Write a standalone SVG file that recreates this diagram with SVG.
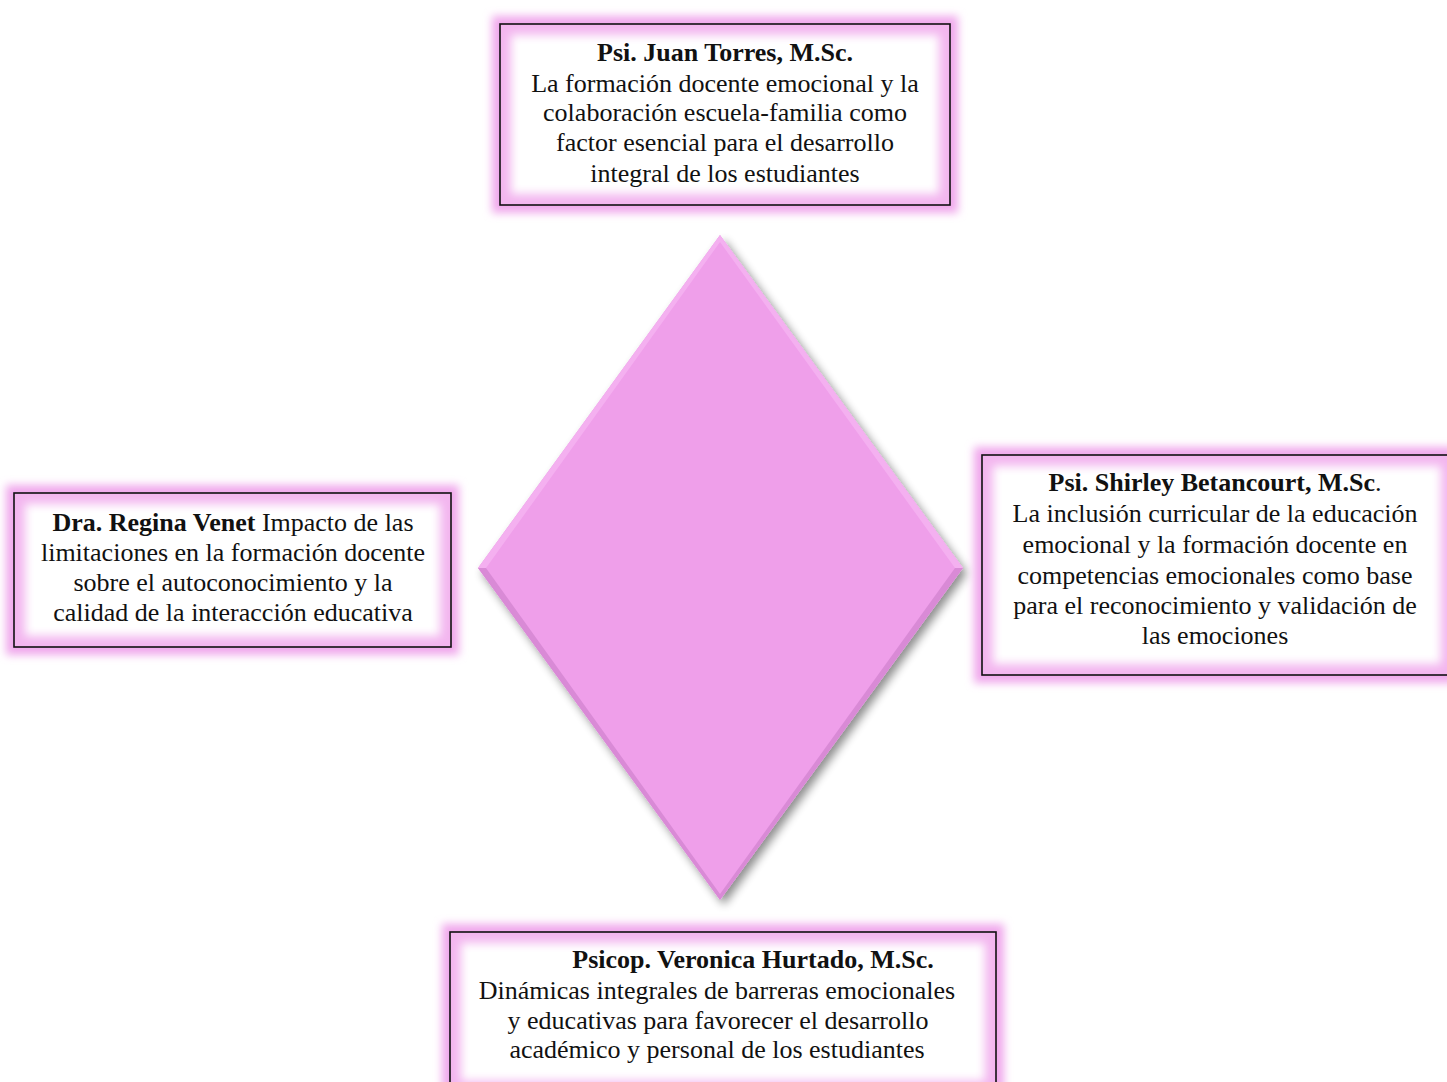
<svg xmlns="http://www.w3.org/2000/svg" width="1447" height="1082" viewBox="0 0 1447 1082">
<style>
.t{font-family:"Liberation Serif","Times New Roman",serif;font-size:26px;fill:#111;text-anchor:middle}
.b{font-weight:bold}
.border{fill:none;stroke:#111;stroke-width:1.6}
.glow{fill:none;stroke:#f0a8ec;stroke-width:16;filter:url(#blur)}
.inner{fill:none;stroke:#f3b6ef;stroke-width:22;filter:url(#blur2)}
</style>
<defs>
<filter id="blur" x="-10%" y="-20%" width="120%" height="140%"><feGaussianBlur stdDeviation="4"/></filter>
<filter id="blur2" x="-10%" y="-20%" width="120%" height="140%"><feGaussianBlur stdDeviation="5"/></filter>
<filter id="shadow" x="-20%" y="-20%" width="140%" height="140%"><feGaussianBlur in="SourceAlpha" stdDeviation="5"/><feOffset dx="4" dy="5"/><feComponentTransfer><feFuncA type="linear" slope="0.45"/></feComponentTransfer><feMerge><feMergeNode/><feMergeNode in="SourceGraphic"/></feMerge></filter>
<clipPath id="cTop"><rect x="500" y="24" width="450" height="181"/></clipPath>
<clipPath id="cLeft"><rect x="14" y="493" width="437" height="154"/></clipPath>
<clipPath id="cRight"><rect x="982" y="455" width="470" height="220"/></clipPath>
<clipPath id="cBot"><rect x="450" y="932" width="546" height="160"/></clipPath>
</defs>
<rect width="1447" height="1082" fill="#fff"/>

<g id="diamond">
<polygon points="720,235 963,568 720,900 478,568" fill="#e596e2" filter="url(#shadow)"/>
<polygon points="720,235 963,568 720,568 478,568" fill="#f4b0f0"/>
<polygon points="478,568 720,900 963,568" fill="#d98ad6"/>
<polygon points="720,242 955,568 720,894 486,568" fill="#ef9fea"/>
</g>

<g id="node-top">
<rect class="glow" x="500" y="24" width="450" height="181"/>
<rect x="500" y="24" width="450" height="181" fill="#fff"/>
<rect class="inner" x="500" y="24" width="450" height="181" clip-path="url(#cTop)"/>
<rect class="border" x="500" y="24" width="450" height="181"/>
<text class="t b" x="725" y="61">Psi. Juan Torres, M.Sc.</text>
<text class="t" x="725" y="92">La formación docente emocional y la</text>
<text class="t" x="725" y="121">colaboración escuela-familia como</text>
<text class="t" x="725" y="151">factor esencial para el desarrollo</text>
<text class="t" x="725" y="182">integral de los estudiantes</text>
</g>

<g id="node-left">
<rect class="glow" x="14" y="493" width="437" height="154"/>
<rect x="14" y="493" width="437" height="154" fill="#fff"/>
<rect class="inner" x="14" y="493" width="437" height="154" clip-path="url(#cLeft)"/>
<rect class="border" x="14" y="493" width="437" height="154"/>
<text class="t" x="233" y="531"><tspan class="b">Dra. Regina Venet</tspan> Impacto de las</text>
<text class="t" x="233" y="561">limitaciones en la formación docente</text>
<text class="t" x="233" y="591">sobre el autoconocimiento y la</text>
<text class="t" x="233" y="621">calidad de la interacción educativa</text>
</g>

<g id="node-right">
<rect class="glow" x="982" y="455" width="470" height="220"/>
<rect x="982" y="455" width="470" height="220" fill="#fff"/>
<rect class="inner" x="982" y="455" width="470" height="220" clip-path="url(#cRight)"/>
<rect class="border" x="982" y="455" width="470" height="220"/>
<text class="t" x="1215" y="491"><tspan class="b">Psi. Shirley Betancourt, M.Sc</tspan>.</text>
<text class="t" x="1215" y="522">La inclusión curricular de la educación</text>
<text class="t" x="1215" y="553">emocional y la formación docente en</text>
<text class="t" x="1215" y="584">competencias emocionales como base</text>
<text class="t" x="1215" y="614">para el reconocimiento y validación de</text>
<text class="t" x="1215" y="644">las emociones</text>
</g>

<g id="node-bottom">
<rect class="glow" x="450" y="932" width="546" height="160"/>
<rect x="450" y="932" width="546" height="160" fill="#fff"/>
<rect class="inner" x="450" y="932" width="546" height="160" clip-path="url(#cBot)"/>
<rect class="border" x="450" y="932" width="546" height="160"/>
<text class="t b" x="753" y="968">Psicop. Veronica Hurtado, M.Sc.</text>
<text class="t" x="717" y="999">Dinámicas integrales de barreras emocionales</text>
<text class="t" x="718" y="1029">y educativas para favorecer el desarrollo</text>
<text class="t" x="717" y="1058">académico y personal de los estudiantes</text>
</g>

<g id="connectors"></g>
</svg>
